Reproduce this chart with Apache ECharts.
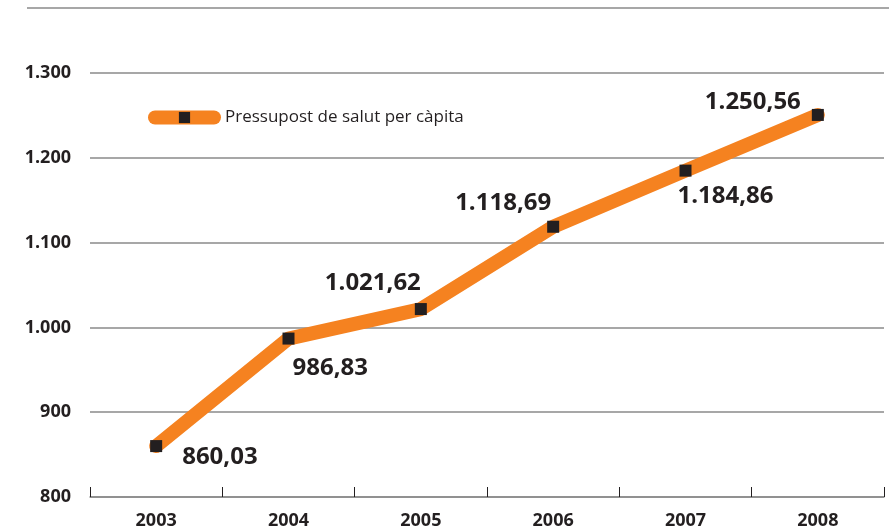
<!DOCTYPE html>
<html>
<head>
<meta charset="utf-8">
<script src="https://cdn.jsdelivr.net/npm/echarts@6/dist/echarts.min.js"></script>
<style>
  html, body { margin: 0; padding: 0; background: #fff; }
  #chart { width: 889px; height: 531px; }
</style>
</head>
<body>
<div id="chart"></div>
<script>
// Pressupost de salut per càpita 2003-2008
const years = ['2003', '2004', '2005', '2006', '2007', '2008'];
const values = [860.03, 986.83, 1021.62, 1118.69, 1184.86, 1250.56];
const seriesName = 'Pressupost de salut per càpita';

// where each value label sits relative to its point
const labelPlace = [
  { position: 'right', offset: [15, 11] },
  { position: 'right', offset: [-7, 30] },
  { position: 'left', offset: [11, -26] },
  { position: 'left', offset: [9, -24] },
  { position: 'right', offset: [-19, 26] },
  { position: 'left', offset: [-6, -13] }
];

function fmtThousands(v) {
  return String(v).replace(/\B(?=(\d{3})+(?!\d))/g, '.');
}
function fmtValue(v) {
  const parts = v.toFixed(2).split('.');
  return fmtThousands(parts[0]) + ',' + parts[1];
}

const chart = echarts.init(document.getElementById('chart'));
const font = '"Open Sans", Lato, sans-serif';

const option = {
  animation: false,
  grid: { left: 90, right: 5, top: 73, bottom: 34 },
  legend: {
    data: [seriesName],
    left: 143,
    top: 104,
    itemWidth: 59,
    itemHeight: 14,
    itemGap: 7,
    lineStyle: { width: 14, cap: 'round' },
    itemStyle: { borderWidth: 0 },
    textStyle: { fontFamily: font, fontSize: 17, color: '#231f20', padding: [0, 0, 0, 6] }
  },
  graphic: [{
    type: 'line',
    shape: { x1: 27, y1: 8, x2: 889, y2: 8 },
    style: { stroke: '#8a8a8a', lineWidth: 1.5 }
  }],
  xAxis: {
    type: 'category',
    data: years,
    boundaryGap: true,
    axisLine: { lineStyle: { color: '#8a8a8a', width: 1.5 } },
    axisTick: { show: true, inside: true, length: 10, lineStyle: { color: '#231f20', width: 1 } },
    axisLabel: {
      margin: 15,
      fontFamily: font, fontSize: 18, fontWeight: 'bold', color: '#231f20'
    }
  },
  yAxis: {
    type: 'value',
    min: 800,
    max: 1300,
    interval: 100,
    axisLine: { show: false },
    axisTick: { show: false },
    splitLine: { lineStyle: { color: '#8a8a8a', width: 1.5 } },
    axisLabel: {
      margin: 19,
      fontFamily: font, fontSize: 18, fontWeight: 'bold', color: '#231f20',
      formatter: function (v) { return fmtThousands(v); }
    }
  },
  series: [{
    name: seriesName,
    type: 'line',
    data: values.map(function (v, i) {
      return {
        value: v,
        label: { position: labelPlace[i].position, offset: labelPlace[i].offset }
      };
    }),
    lineStyle: { color: '#f58220', width: 14, cap: 'round', join: 'round' },
    itemStyle: { color: '#231f20', borderWidth: 0 },
    symbol: 'rect',
    symbolSize: 12,
    showAllSymbol: true,
    z: 3,
    label: {
      show: true,
      fontFamily: font, fontSize: 24, fontWeight: 'bold', color: '#231f20',
      formatter: function (p) { return fmtValue(p.value); }
    }
  }]
};
chart.setOption(option);
</script>
</body>
</html>
